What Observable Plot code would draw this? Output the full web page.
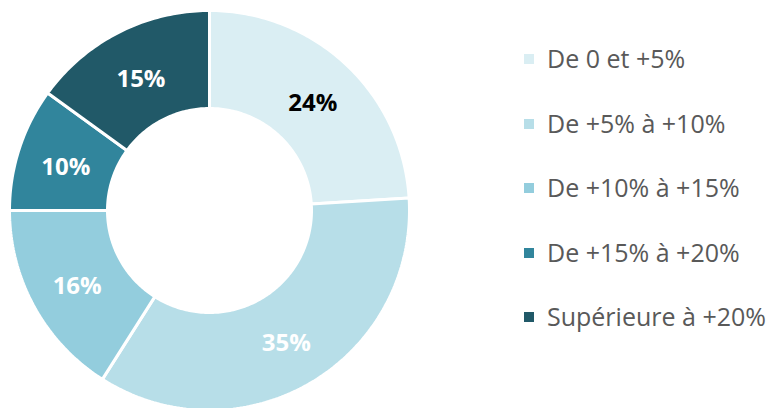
<!DOCTYPE html>
<html>
<head>
<meta charset="utf-8">
<script src="https://cdn.jsdelivr.net/npm/d3@7"></script>
<script src="https://cdn.jsdelivr.net/npm/@observablehq/plot@0.6"></script>
<style>
  html, body { margin: 0; padding: 0; background: #fff; }
  #wrap { position: relative; width: 770px; height: 408px; overflow: hidden; font-family: "Open Sans", sans-serif; }
  #wrap svg { position: absolute; left: 0; top: 0; }
  .leg { position: absolute; left: 524px; height: 34px; line-height: 34px; font-size: 25px; color: #595959; white-space: nowrap; }
  .leg .sw { position: absolute; left: 0; top: 13px; width: 10px; height: 10px; }
  .leg .lb { position: absolute; left: 23px; top: 0; }
</style>
</head>
<body>
<div id="wrap"></div>
<script>
const categories = ["De 0 et +5%", "De +5% à +10%", "De +10% à +15%", "De +15% à +20%", "Supérieure à +20%"];
const values = [24, 35, 16, 10, 15];
const colors = ["#DAEEF3", "#B7DEE8", "#93CDDD", "#31859C", "#215968"];
const labelColors = ["#000000", "#ffffff", "#ffffff", "#ffffff", "#ffffff"];

const R_OUT = 1, R_IN = 0.51;
const arcs = d3.pie().sort(null).value(d => d)(values);

// build ring-slice outlines from pie angles (0 = top, clockwise)
const pts = [];
arcs.forEach((a, i) => {
  const n = Math.max(8, Math.ceil((a.endAngle - a.startAngle) * 60));
  for (let k = 0; k <= n; k++) {
    const t = a.startAngle + (a.endAngle - a.startAngle) * k / n;
    pts.push({cat: categories[i], x: R_OUT * Math.sin(t), y: R_OUT * Math.cos(t)});
  }
  for (let k = n; k >= 0; k--) {
    const t = a.startAngle + (a.endAngle - a.startAngle) * k / n;
    pts.push({cat: categories[i], x: R_IN * Math.sin(t), y: R_IN * Math.cos(t)});
  }
});

const labels = arcs.map((a, i) => {
  const m = (a.startAngle + a.endAngle) / 2;
  const r = (R_OUT + R_IN) / 2;
  return {text: values[i] + "%", x: r * Math.sin(m), y: r * Math.cos(m), c: labelColors[i]};
});

const chart = Plot.plot({
  width: 770,
  height: 408,
  margin: 0,
  x: {domain: [-1, 1], range: [9, 409], axis: null},
  y: {domain: [-1, 1], range: [410, 10], axis: null},
  color: {domain: categories, range: colors},
  style: {background: "transparent", fontFamily: "Open Sans, sans-serif"},
  marks: [
    Plot.line(pts, {x: "x", y: "y", z: "cat", fill: "cat", stroke: "white", strokeWidth: 3, curve: "linear-closed", strokeLinejoin: "miter"}),
    Plot.text(labels, {x: "x", y: "y", text: "text", fill: d => d.c, fontSize: 24, fontWeight: "bold", fontFamily: "Open Sans", dy: 3})
  ]
});
const wrap = document.getElementById("wrap");
wrap.appendChild(chart);

categories.forEach((c, i) => {
  const row = document.createElement("div");
  row.className = "leg";
  row.style.top = (41 + i * 64.5) + "px";
  const sw = document.createElement("div");
  sw.className = "sw";
  sw.style.background = colors[i];
  const lb = document.createElement("span");
  lb.className = "lb";
  lb.textContent = c;
  row.appendChild(sw);
  row.appendChild(lb);
  wrap.appendChild(row);
});
</script>
</body>
</html>
